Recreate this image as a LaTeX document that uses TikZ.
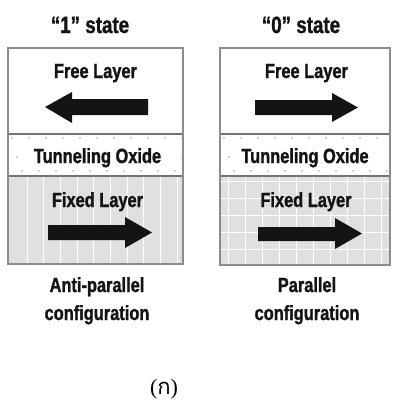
\documentclass[tikz,border=0pt]{standalone}
\usepackage{fontspec}
\setmainfont{Liberation Sans}[FakeStretch=0.8, BoldFeatures={FakeBold=1.3}]
\newfontfamily\thaifont[Script=Thai]{Loma}
\newfontfamily\parenfont{Liberation Serif}
\begin{document}
\begin{tikzpicture}[x=1pt,y=-1pt,
  frame/.style={draw=black!45,line width=1.6pt},
  sep/.style={draw=black!55,line width=1.4pt},
  fixedfill/.style={fill=blue!5!black!12},
  gridline/.style={draw=white,line width=0.9pt},
  oxdot/.style={fill=black!35},
  lbl/.style={font=\fontsize{20.5}{24}\selectfont\bfseries,text=black!92,anchor=base,inner sep=0pt},
  ttl/.style={font=\fontsize{23.5}{28}\selectfont\bfseries,text=black!92,anchor=base,inner sep=0pt},
  captext/.style={font=\fontsize{20.5}{28}\selectfont\bfseries,text=black!92,align=center,anchor=base,inner sep=0pt},
  bigarrow/.style={fill=black!92}]
\useasboundingbox (0,0) rectangle (393,405);

% ---------- left stack: anti-parallel ----------
\fill[fixedfill] (8,176) rectangle (183,264);
\begin{scope}
  \clip (8,176) rectangle (183,264);
  \foreach \x in {27,43.7,...,183} \draw[gridline] (\x,176) -- (\x,264);
\end{scope}
\foreach \x in {12,29,...,183} \fill[oxdot] (\x,138) circle (0.8);
\foreach \x in {17,50,...,183} \fill[oxdot] (\x,157) circle (0.8);
\foreach \x in {22,39,...,183} \fill[oxdot] (\x,171) circle (0.8);
\draw[sep] (8,134) -- (183,134);
\draw[sep] (8,176) -- (183,176);
\draw[frame] (8,48) rectangle (183,264);

% ---------- right stack: parallel ----------
\fill[fixedfill] (220,176) rectangle (390,265);
\begin{scope}
  \clip (220,176) rectangle (390,265);
  \foreach \x in {228,245,...,390} \draw[gridline] (\x,176) -- (\x,265);
  \foreach \y in {181,198,...,265} \draw[gridline] (220,\y) -- (390,\y);
\end{scope}
\foreach \x in {224,241,...,390} \fill[oxdot] (\x,138) circle (0.8);
\foreach \x in {229,262,...,390} \fill[oxdot] (\x,157) circle (0.8);
\foreach \x in {234,251,...,390} \fill[oxdot] (\x,171) circle (0.8);
\draw[sep] (220,134) -- (390,134);
\draw[sep] (220,176) -- (390,176);
\draw[frame] (220,48) rectangle (390,265);

% ---------- magnetisation arrows ----------
\fill[bigarrow] (45,107) -- (72,92) -- (72,99) -- (148,99) -- (148,115) -- (72,115) -- (72,123) -- cycle;
\fill[bigarrow] (358,107.5) -- (332,93) -- (332,100) -- (255,100) -- (255,115) -- (332,115) -- (332,122) -- cycle;
\fill[bigarrow] (152,232.5) -- (125,217) -- (125,225) -- (48,225) -- (48,240) -- (125,240) -- (125,248) -- cycle;
\fill[bigarrow] (362,233.5) -- (335,218) -- (335,227) -- (258,227) -- (258,241) -- (335,241) -- (335,249) -- cycle;

% ---------- texts ----------
\node[ttl] (t1) at (90,33) {“1” state};
\node[ttl] (t0) at (301,33) {“0” state};
\node[lbl] (fr1) at (95.5,78) {Free Layer};
\node[lbl] (fr0) at (306.5,78) {Free Layer};
\node[lbl,fill=white,inner xsep=1pt] (ox1) at (97.5,163) {Tunneling Oxide};
\node[lbl,fill=white,inner xsep=1pt] (ox0) at (305,163) {Tunneling Oxide};
\node[lbl] (fx1) at (97.5,207) {Fixed Layer};
\node[lbl] (fx0) at (306,207) {Fixed Layer};
\node[captext] (c1a) at (97,292) {Anti-parallel};
\node[captext] (c1b) at (97,320) {configuration};
\node[captext] (c0a) at (307,292) {Parallel};
\node[captext] (c0b) at (307,320) {configuration};
\node[anchor=base,inner sep=0pt,font=\fontsize{22}{26}\selectfont] (sub) at (164,394)
  {\parenfont(\thaifont ก\parenfont)};
\end{tikzpicture}
\end{document}
